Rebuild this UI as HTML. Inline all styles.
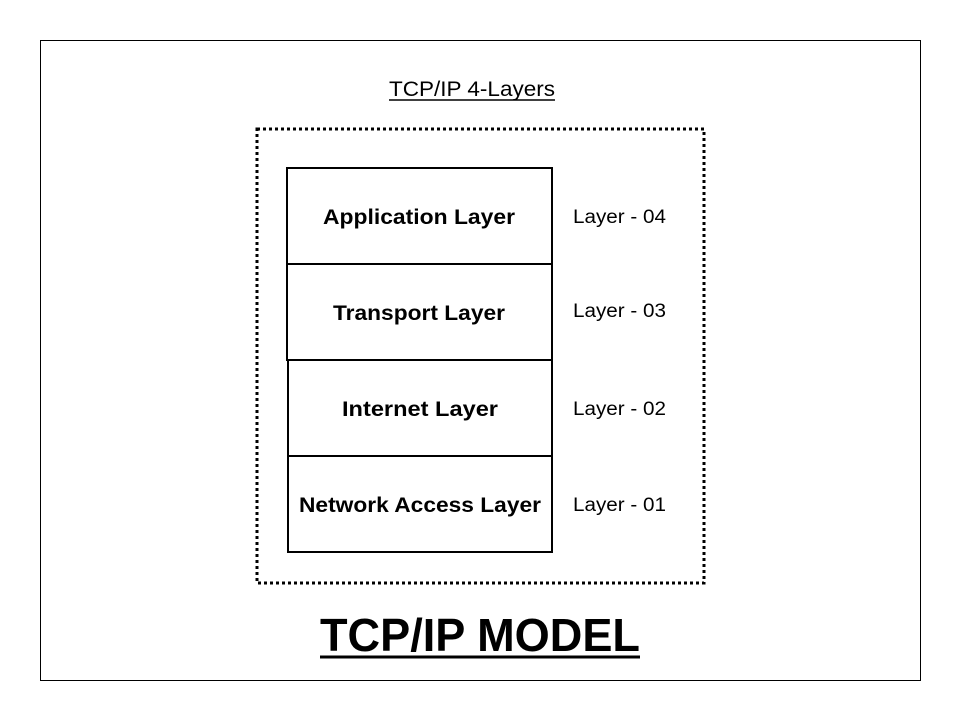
<!DOCTYPE html>
<html><head><style>body{margin:0;background:#fff}svg{display:block}</style></head><body>
<svg width="960" height="720" xmlns="http://www.w3.org/2000/svg" font-family="Liberation Sans, sans-serif">
<rect x="40.5" y="40.5" width="880" height="640" fill="none" stroke="#000" stroke-width="1"/>
<text x="472" y="96" font-size="21" text-anchor="middle" textLength="166" lengthAdjust="spacingAndGlyphs">TCP/IP 4-Layers</text>
<line x1="389" y1="100" x2="555" y2="100" stroke="#000" stroke-width="1.5"/>
<rect x="257" y="129" width="447" height="454" fill="none" stroke="#000" stroke-width="3" stroke-dasharray="3,3"/>
<g fill="none" stroke="#000" stroke-width="2">
<rect x="287" y="168" width="265" height="96"/>
<rect x="287" y="264" width="265" height="96"/>
<rect x="288" y="360" width="264" height="96"/>
<rect x="288" y="456" width="264" height="96"/>
</g>
<g font-size="21" font-weight="bold" text-anchor="middle">
<text x="419" y="224" textLength="192" lengthAdjust="spacingAndGlyphs">Application Layer</text>
<text x="419" y="320" textLength="172" lengthAdjust="spacingAndGlyphs">Transport Layer</text>
<text x="420" y="416" textLength="156" lengthAdjust="spacingAndGlyphs">Internet Layer</text>
<text x="420" y="512" textLength="242" lengthAdjust="spacingAndGlyphs">Network Access Layer</text>
</g>
<g font-size="19">
<text x="573" y="223" textLength="93" lengthAdjust="spacingAndGlyphs">Layer - 04</text>
<text x="573" y="317" textLength="93" lengthAdjust="spacingAndGlyphs">Layer - 03</text>
<text x="573" y="415" textLength="93" lengthAdjust="spacingAndGlyphs">Layer - 02</text>
<text x="573" y="511" textLength="93" lengthAdjust="spacingAndGlyphs">Layer - 01</text>
</g>
<text x="480" y="651" font-size="46" font-weight="bold" text-anchor="middle" textLength="320" lengthAdjust="spacingAndGlyphs">TCP/IP MODEL</text>
<line x1="320" y1="657" x2="640" y2="657" stroke="#000" stroke-width="3"/>
</svg>
</body></html>
